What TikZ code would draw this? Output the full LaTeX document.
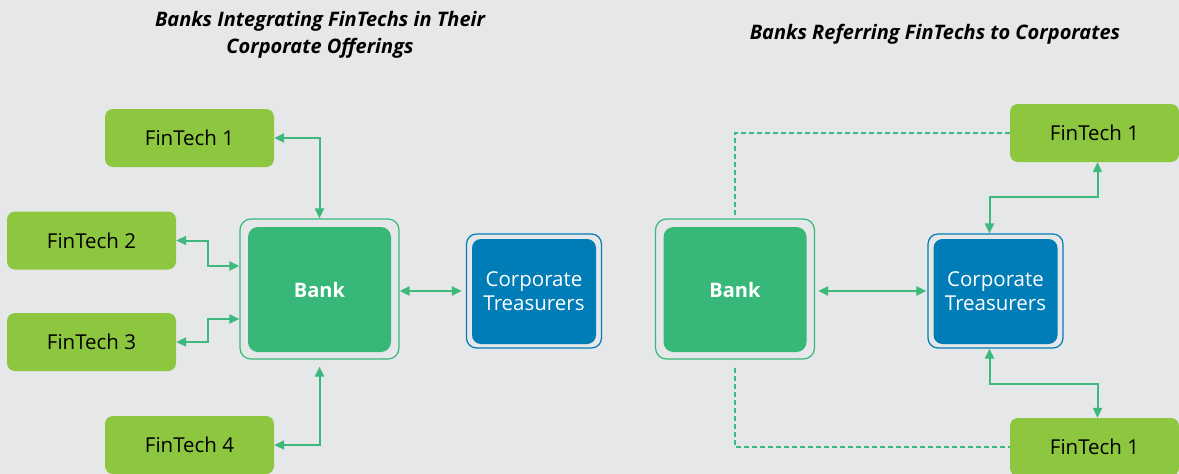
\documentclass[tikz,border=0pt]{standalone}
\usepackage{fontspec}
\setmainfont{Open Sans}
\usetikzlibrary{arrows.meta}

\definecolor{bggray}{HTML}{E6E7E8}
\definecolor{ftgreen}{HTML}{8DC63F}
\definecolor{bankgreen}{HTML}{37B879}
\definecolor{corpblue}{HTML}{007DB7}
\definecolor{linkgreen}{HTML}{3DB97E}

\tikzset{
  fintech/.style={fill=ftgreen, rounded corners=8pt, minimum width=169pt,
    minimum height=58pt, font=\fontsize{20.5}{24}\selectfont, text=black},
  bankframe/.style={draw=bankgreen, line width=1.2pt, rounded corners=11pt,
    minimum width=159pt, minimum height=140pt},
  bankbox/.style={fill=bankgreen, rounded corners=10pt, minimum width=143pt,
    minimum height=125pt, text=white, font=\fontsize{20}{24}\selectfont\bfseries},
  corpframe/.style={draw=corpblue, line width=1.2pt, rounded corners=10pt,
    minimum width=135pt, minimum height=114pt},
  corpbox/.style={fill=corpblue, rounded corners=9pt, minimum width=124pt,
    minimum height=105pt, text=white, align=center,
    font=\fontsize{20.5}{24}\selectfont},
  link/.style={draw=linkgreen, line width=2pt,
    {Triangle[length=10pt,width=9pt]}-{Triangle[length=10pt,width=9pt]}},
  hint/.style={draw=linkgreen, line width=2pt, dash pattern=on 5pt off 3pt},
  heading/.style={font=\fontsize{20}{27}\selectfont\bfseries\itshape, align=center}
}

\begin{document}
\begin{tikzpicture}[x=1pt,y=-1pt]

  % background
  \fill[bggray] (0,0) rectangle (1179,474);
  \useasboundingbox (0,0) rectangle (1179,474);
  \clip (0,0) rectangle (1179,474);

  % headings
  \node[heading] (headL) at (320,34.5) {Banks Integrating FinTechs in Their\\Corporate Offerings};
  \node[heading] (headR) at (935,34) {Banks Referring FinTechs to Corporates};

  % left: bank integrating
  \node[fintech] (ftA1) at (189.5,138) {FinTech 1};
  \node[fintech] (ftA2) at (91.5,240.5) {FinTech 2};
  \node[fintech] (ftA3) at (91.5,342) {FinTech 3};
  \node[fintech] (ftA4) at (189.5,445) {FinTech 4};

  \node[bankframe] (bankLframe) at (319.5,289) {};
  \node[bankbox] (bankL) at (319.5,289.5) {Bank};
  \node[corpframe] (corpLframe) at (534,291) {};
  \node[corpbox] (corpL) at (534,291.5) {Corporate\\Treasurers};

  \draw[link] (ftA1.east) -| (bankLframe.north);
  \draw[link] (ftA2.east) -- ++(32,0) |- ([yshift=23pt]bankLframe.west);
  \draw[link] (ftA3.east) -- ++(32,0) |- ([yshift=-30pt]bankLframe.west);
  \draw[link] (ftA4.east) -| ([yshift=-7pt]bankLframe.south);
  \draw[link, shorten >=4pt] (bankLframe.east |- corpLframe.west) -- (corpLframe.west);

  % right: bank referring
  \node[fintech] (ftB1) at (1094.5,133) {FinTech 1};
  \node[fintech] (ftB2) at (1094.5,447) {FinTech 1};

  \node[bankframe] (bankRframe) at (735,289) {};
  \node[bankbox] (bankR) at (735,289.5) {Bank};
  \node[corpframe] (corpRframe) at (995.5,291) {};
  \node[corpbox] (corpR) at (995.5,291.5) {Corporate\\Treasurers};

  \draw[hint] ([yshift=3pt]bankRframe.north) |- (ftB1.west);
  \draw[hint] ([yshift=-8pt]bankRframe.south) |- (ftB2.west);
  \draw[link] ([xshift=-6pt]corpRframe.north) -- ++(0,-36) -| ([xshift=3pt]ftB1.south);
  \draw[link] ([xshift=-6pt]corpRframe.south) -- ++(0,35) -| ([xshift=3pt]ftB2.north);
  \draw[link, shorten <=3pt, shorten >=1pt] (bankRframe.east |- corpRframe.west) -- (corpRframe.west);

\end{tikzpicture}
\end{document}
